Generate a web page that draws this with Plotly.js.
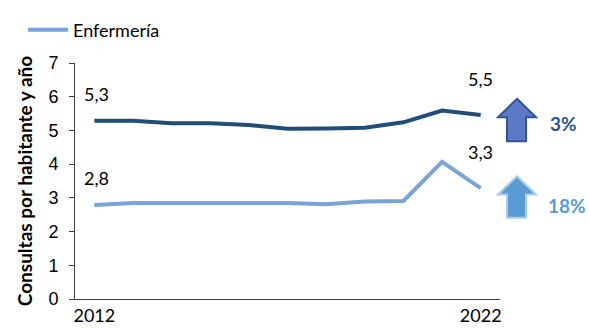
<!DOCTYPE html>
<html>
<head>
<meta charset="utf-8">
<script src="https://cdn.plot.ly/plotly-3.0.1.min.js"></script>
<style>html,body{margin:0;padding:0;background:#fff;}#chart{width:589px;height:329px;}</style>
</head>
<body>
<div id="chart"></div>
<script>
// Data
const years = ["2012","2013","2014","2015","2016","2017","2018","2019","2020","2021","2022"];
const medicina = [5.29, 5.29, 5.21, 5.21, 5.16, 5.05, 5.06, 5.08, 5.24, 5.59, 5.46];
const enfermeria = [2.79, 2.85, 2.85, 2.85, 2.86, 2.85, 2.81, 2.89, 2.91, 4.07, 3.29];
const xTickLabels = ["2012", "2022"];
const seriesNames = ["Medicina", "Enfermería"];
const yTitle = "Consultas por habitante y año";

const W = 589, H = 329, L = 75, R = 89, T = 55, B = 30;
const pw = W - L - R, ph = H - T - B;
const px = x => (x - L) / pw;
const py = y => (H - B - y) / ph;

const darkColor = "#1F4E79", lightColor = "#7AA3D7";
const fmt = v => v.toFixed(1).replace(".", ",");
const pct = a => Math.round((a[a.length-1] - a[0]) / a[0] * 100) + "%";

const traces = [
  {x: years, y: medicina, name: seriesNames[0], type: "scatter", mode: "lines",
   line: {color: darkColor, width: 4}, showlegend: false},
  {x: years, y: enfermeria, name: seriesNames[1], type: "scatter", mode: "lines",
   line: {color: lightColor, width: 4}}
];

const calibri = "Lato, 'Open Sans', sans-serif";
const annotations = [];
[medicina, enfermeria].forEach(arr => {
  [0, arr.length - 1].forEach(i => {
    annotations.push({x: i, y: arr[i], xref: "x", yref: "y", text: fmt(arr[i]),
      showarrow: false, xshift: i === 0 ? 2 : 0, yshift: i === 0 ? 27 : 36,
      font: {family: calibri, size: 18, color: "#000"}});
  });
});
annotations.push({xref: "paper", yref: "paper", x: px(548), y: py(118), xanchor: "left", yanchor: "middle",
  text: "<b>" + pct(medicina) + "</b>", showarrow: false, font: {family: calibri, size: 19, color: "#2F5597"}});
annotations.push({xref: "paper", yref: "paper", x: px(546), y: py(202), xanchor: "left", yanchor: "middle",
  text: "<b>" + pct(enfermeria) + "</b>", showarrow: false, font: {family: calibri, size: 19, color: "#5B9BD5"}});

function arrowPath(tipY, headBase, bottom) {
  const tx = 517, hl = 498, hr = 536, sl = 507, sr = 526;
  const pts = [[tx, tipY], [hr, headBase], [sr, headBase], [sr, bottom], [sl, bottom], [sl, headBase], [hl, headBase]];
  return "M" + pts.map(p => px(p[0]) + "," + py(p[1])).join(" L") + " Z";
}
const shapes = [
  {type: "path", xref: "paper", yref: "paper", path: arrowPath(92, 111, 136),
   fillcolor: "#5B79C6", line: {color: "#2F5597", width: 2}},
  {type: "path", xref: "paper", yref: "paper", path: arrowPath(172, 191, 215),
   fillcolor: "#5B9BD5", line: {color: "#A9CDF0", width: 2}}
];

const layout = {
  width: W, height: H,
  margin: {l: L, r: R, t: T, b: B, pad: 0},
  paper_bgcolor: "#fff", plot_bgcolor: "#fff",
  showlegend: true,
  legend: {x: px(23), y: py(21), xanchor: "left", yanchor: "middle", orientation: "h",
    font: {family: calibri, size: 18, color: "#000"}, bgcolor: "rgba(0,0,0,0)", itemwidth: 40},
  xaxis: {type: "category", range: [-0.5, years.length - 0.5], tickmode: "array",
    tickvals: xTickLabels, ticktext: xTickLabels, ticks: "", showgrid: false, zeroline: false,
    showline: true, linecolor: "#404040", linewidth: 1,
    tickfont: {family: calibri, size: 18, color: "#000"}, fixedrange: true},
  yaxis: {range: [0, 7], dtick: 1, ticks: "outside", ticklen: 5, tickcolor: "#404040",
    ticklabelstandoff: 7,
    showgrid: false, zeroline: false, showline: true, linecolor: "#404040", linewidth: 1,
    tickfont: {family: "'Liberation Sans', Arial, sans-serif", size: 18, color: "#000"},
    title: {text: "<b>" + yTitle + "</b>", font: {family: calibri, size: 19, color: "#000"}, standoff: 10}},
  annotations: annotations,
  shapes: shapes
};

Plotly.newPlot("chart", traces, layout, {displayModeBar: false, staticPlot: true});
</script>
</body>
</html>
